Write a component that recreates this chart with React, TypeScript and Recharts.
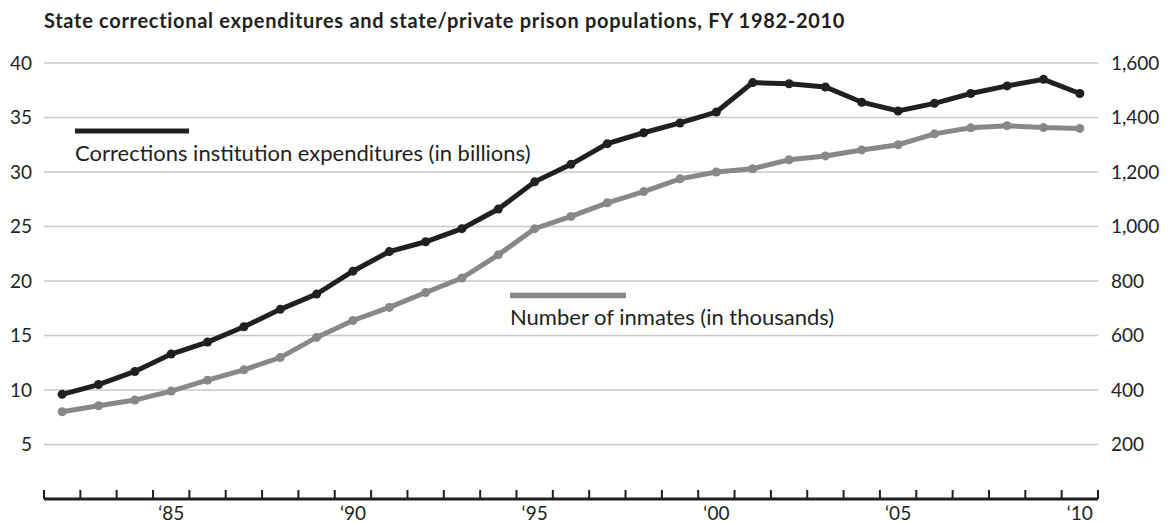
import { LineChart, Line, XAxis, YAxis, CartesianGrid } from 'recharts'

const YEARS = [
  1982, 1983, 1984, 1985, 1986, 1987, 1988, 1989, 1990, 1991,
  1992, 1993, 1994, 1995, 1996, 1997, 1998, 1999, 2000, 2001,
  2002, 2003, 2004, 2005, 2006, 2007, 2008, 2009, 2010,
]
// billions of dollars
const SPENDING = [
  9.6, 10.5, 11.7, 13.3, 14.4, 15.8, 17.4, 18.8, 20.9, 22.7,
  23.6, 24.8, 26.6, 29.1, 30.7, 32.6, 33.6, 34.5, 35.5, 38.2,
  38.1, 37.8, 36.4, 35.6, 36.3, 37.2, 37.9, 38.5, 37.2,
]
// thousands of inmates
const INMATES = [
  320, 342, 363, 396, 436, 474, 519, 593, 655, 703,
  758, 811, 896, 992, 1037, 1087, 1128, 1175, 1200, 1212,
  1245, 1259, 1281, 1300, 1340, 1362, 1370, 1363, 1360,
]
const LEFT_TICKS = [5, 10, 15, 20, 25, 30, 35, 40]
const RIGHT_TICKS = [200, 400, 600, 800, 1000, 1200, 1400, 1600]
const LABEL_YEARS = [1985, 1990, 1995, 2000, 2005, 2010]
const YEAR_LABELS = ['\u201885', '\u201890', '\u201895', '\u201800', '\u201805', '\u201810']

const TITLE = 'State correctional expenditures and state/private prison populations, FY 1982-2010'
const SPENDING_NAME = 'Corrections institution expenditures (in billions)'
const INMATES_NAME = 'Number of inmates (in thousands)'

const W = 1173
const H = 523
const LEFT_W = 44
const RIGHT_W = 75
const TOP = 63
const X_H = 24
const BAND_HALF = (W - LEFT_W - RIGHT_W) / YEARS.length / 2

const INK = '#231f20'
const GREY = '#87888a'
const GRID = '#c8c8c8'
const FONT = 'Lato, "Noto Sans", sans-serif'
const TICK_SIZE = 19

const data = YEARS.map((year, i) => ({ year, spending: SPENDING[i], inmates: INMATES[i] }))

function YearTick(props: any) {
  const { x, y, payload, index } = props
  const half = payload?.offset || BAND_HALF
  const li = LABEL_YEARS.indexOf(payload.value)
  return (
    <g>
      <line x1={x - half} x2={x - half} y1={y - 9} y2={y} stroke={INK} strokeWidth={2} />
      {index === YEARS.length - 1 && (
        <line x1={x + half} x2={x + half} y1={y - 9} y2={y} stroke={INK} strokeWidth={2} />
      )}
      {li >= 0 && (
        <text x={x} y={y + 21} textAnchor="middle" fontFamily={FONT} fontSize={TICK_SIZE} fill={INK}>
          {YEAR_LABELS[li]}
        </text>
      )}
    </g>
  )
}

function LeftTick(props: any) {
  const { x, y, payload } = props
  return (
    <text x={x} y={y} dy="0.36em" textAnchor="end" fontFamily={FONT} fontSize={TICK_SIZE} fill={INK}>
      {payload.value}
    </text>
  )
}

function RightTick(props: any) {
  const { x, y, payload } = props
  return (
    <text x={x} y={y} dy="0.36em" textAnchor="start" fontFamily={FONT} fontSize={TICK_SIZE} fill={INK}>
      {Number(payload.value).toLocaleString('en-US')}
    </text>
  )
}

export default function App() {
  return (
    <div style={{ position: 'absolute', left: 0, top: 0, width: W, height: H, background: '#fff' }}>
      <LineChart width={W} height={H} data={data} margin={{ top: TOP, right: 0, bottom: 0, left: 0 }}>
        <CartesianGrid yAxisId="left" vertical={false} stroke={GRID} strokeWidth={1.5} />
        <XAxis
          dataKey="year"
          scale="band"
          height={X_H}
          interval={0}
          tickSize={0}
          tickMargin={0}
          tickLine={false}
          axisLine={{ stroke: INK, strokeWidth: 3 }}
          tick={<YearTick />}
        />
        <YAxis
          yAxisId="left"
          width={LEFT_W}
          domain={[0, 40]}
          ticks={LEFT_TICKS}
          axisLine={false}
          tickLine={false}
          tickSize={0}
          tickMargin={12}
          tick={<LeftTick />}
        />
        <YAxis
          yAxisId="right"
          orientation="right"
          width={RIGHT_W}
          domain={[0, 1600]}
          ticks={RIGHT_TICKS}
          axisLine={false}
          tickLine={false}
          tickSize={0}
          tickMargin={13}
          tick={<RightTick />}
        />
        <Line
          yAxisId="right"
          dataKey="inmates"
          stroke={GREY}
          strokeWidth={5}
          dot={{ r: 4.5, fill: GREY, stroke: 'none' }}
          isAnimationActive={false}
        />
        <Line
          yAxisId="left"
          dataKey="spending"
          stroke={INK}
          strokeWidth={5}
          dot={{ r: 4.5, fill: INK, stroke: 'none' }}
          isAnimationActive={false}
        />
      </LineChart>
      <svg width={W} height={H} style={{ position: 'absolute', left: 0, top: 0, pointerEvents: 'none' }}>
        <text x={44} y={28} fontFamily={FONT} fontWeight={700} fontSize={20} letterSpacing={0.7} fill={INK}>
          {TITLE}
        </text>
        <line x1={75} x2={189} y1={131} y2={131} stroke={INK} strokeWidth={5} />
        <text x={75} y={161} fontFamily={FONT} fontSize={22} fill={INK}>{SPENDING_NAME}</text>
        <line x1={510} x2={626} y1={295.5} y2={295.5} stroke={GREY} strokeWidth={5.5} />
        <text x={510} y={325} fontFamily={FONT} fontSize={22} fill={INK}>{INMATES_NAME}</text>
      </svg>
    </div>
  )
}
